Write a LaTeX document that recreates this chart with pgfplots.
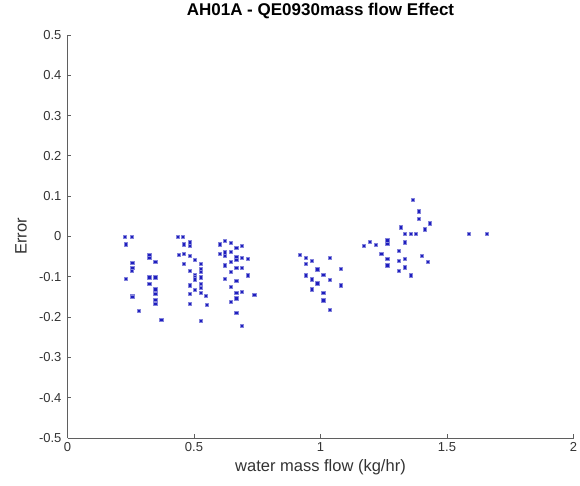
\documentclass[border=0pt]{standalone}
\usepackage{pgfplots}
\pgfplotsset{compat=1.18}
\usepackage{fontspec}
\setmainfont{Liberation Sans}
\definecolor{mk}{RGB}{30,30,190}
\definecolor{ax}{RGB}{95,95,95}
\begin{document}
\begin{tikzpicture}
\path[use as bounding box] (0,0) rectangle (580pt,486pt);
\begin{axis}[
  at={(67.5pt,48pt)}, anchor=south west,
  scale only axis, width=506pt, height=403pt,
  xmin=0, xmax=2, ymin=-0.5, ymax=0.5,
  axis x line=bottom, axis y line=left,
  axis line style={ax, line width=0.9pt, -},
  tick align=inside, major tick length=3.5pt,
  tick style={ax, line width=0.8pt},
  xtick={0,0.5,1,1.5,2}, xticklabels={0,0.5,1,1.5,2},
  ytick={-0.5,-0.4,-0.3,-0.2,-0.1,0,0.1,0.2,0.3,0.4,0.5},
  yticklabels={-0.5,-0.4,-0.3,-0.2,-0.1,0,0.1,0.2,0.3,0.4,0.5},
  ticklabel style={font=\fontsize{13}{15}\selectfont, text=black!80},
  yticklabel style={xshift=-2.5pt},
  xticklabel style={yshift=-1pt},
  title={AH01A - QE0930mass flow Effect},
  title style={font=\fontsize{17}{19}\selectfont\bfseries, at={(axis description cs:0.5,1.045)}, anchor=center},
  xlabel={water mass flow (kg/hr)},
  xlabel style={font=\fontsize{16.5}{18}\selectfont, text=black!80, at={(axis description cs:0.5,-0.072)}, anchor=center},
  ylabel={Error},
  ylabel style={font=\fontsize{16.5}{18}\selectfont, text=black!80, at={(axis description cs:-0.092,0.5)}, anchor=center},
]
\addplot[only marks, mark=square*, mark size=1.6pt, mk, mark options={draw=mk!55, line width=0.4pt, fill=mk}] coordinates {
(0.227,0.00) (0.254,0.00) (0.230,-0.019) (0.256,-0.065) (0.256,-0.077) (0.254,-0.085)
(0.230,-0.105) (0.256,-0.146) (0.256,-0.150) (0.280,-0.184)
(0.323,-0.045) (0.323,-0.053) (0.347,-0.063) (0.323,-0.101) (0.347,-0.101) (0.323,-0.118)
(0.347,-0.131) (0.347,-0.142) (0.347,-0.156) (0.347,-0.166) (0.370,-0.206)
(0.435,0.00) (0.455,0.00) (0.459,-0.019) (0.482,-0.014) (0.482,-0.022) (0.439,-0.045)
(0.459,-0.043) (0.482,-0.048) (0.504,-0.057) (0.525,-0.067) (0.459,-0.068) (0.482,-0.085)
(0.504,-0.095) (0.525,-0.080) (0.525,-0.088) (0.525,-0.101) (0.504,-0.101) (0.504,-0.106)
(0.482,-0.121) (0.525,-0.118) (0.525,-0.128) (0.504,-0.133) (0.482,-0.141) (0.525,-0.139)
(0.547,-0.146) (0.482,-0.166) (0.551,-0.169) (0.525,-0.208)
(0.600,-0.019) (0.621,-0.011) (0.644,-0.016) (0.667,-0.028) (0.690,-0.023) (0.600,-0.043)
(0.621,-0.039) (0.621,-0.048) (0.644,-0.038) (0.667,-0.051) (0.667,-0.058) (0.690,-0.053)
(0.712,-0.056) (0.621,-0.071) (0.644,-0.062) (0.667,-0.077) (0.690,-0.077) (0.644,-0.087)
(0.712,-0.096) (0.621,-0.105) (0.667,-0.109) (0.644,-0.125) (0.667,-0.140) (0.690,-0.137)
(0.738,-0.145) (0.667,-0.153) (0.644,-0.162) (0.667,-0.190) (0.690,-0.221)
(0.919,-0.045) (0.943,-0.052) (0.966,-0.060) (0.943,-0.067) (1.035,-0.052) (0.987,-0.081)
(1.011,-0.095) (1.080,-0.080) (0.943,-0.096) (0.966,-0.106) (1.035,-0.108) (0.987,-0.116)
(0.966,-0.131) (1.011,-0.139) (1.080,-0.121) (1.011,-0.158) (1.035,-0.181)
(1.364,0.091) (1.388,0.063) (1.388,0.044) (1.433,0.033) (1.412,0.018) (1.317,0.023)
(1.333,0.006) (1.357,0.006) (1.377,0.006) (1.172,-0.022) (1.196,-0.012) (1.219,-0.020)
(1.264,-0.009) (1.264,-0.017) (1.333,-0.014) (1.309,-0.035) (1.240,-0.043) (1.264,-0.055)
(1.309,-0.060) (1.333,-0.055) (1.401,-0.048) (1.425,-0.063) (1.264,-0.071) (1.309,-0.085)
(1.333,-0.076) (1.357,-0.096)
(1.586,0.006) (1.657,0.006)
};
\end{axis}
\end{tikzpicture}
\end{document}
